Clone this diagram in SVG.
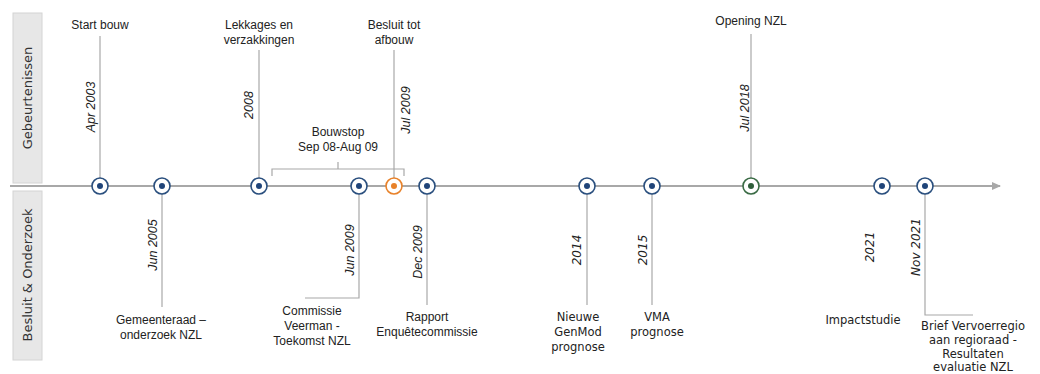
<svg xmlns="http://www.w3.org/2000/svg" width="1040" height="374" viewBox="0 0 1040 374">
<style>
.lane{fill:#e7e7e7;stroke:#d4d4d4;stroke-width:1}
.lanet{font-family:"DejaVu Sans",sans-serif;font-size:13px;fill:#333}
.lbl{font-family:"Liberation Sans",Arial,sans-serif;font-size:12px;fill:#222;text-anchor:middle}
.lblv{font-family:"DejaVu Sans",sans-serif;font-size:11.5px;fill:#222;text-anchor:middle}
.dt{font-family:"Liberation Sans",Arial,sans-serif;font-size:12.5px;font-style:italic;fill:#222;text-anchor:middle}
.dtv{font-family:"DejaVu Sans",sans-serif;font-size:12px;font-style:italic;fill:#222;text-anchor:middle}
.stem{stroke:#a8a8a8;stroke-width:1.2;fill:none}
.ring{fill:#fff;stroke-width:1.6}
.b{stroke:#2a4f7e}.bd{fill:#1f4479}
.o{stroke:#e8822a}.od{fill:#e8822a}
.g{stroke:#3a6b45}.gd{fill:#2f5e3a}
</style>
<defs>
<marker id="arr" markerWidth="10" markerHeight="8" refX="8" refY="4" orient="auto" markerUnits="userSpaceOnUse">
<path d="M0,0 L9,4 L0,8 Z" fill="#a8a8a8"/>
</marker>
</defs>
<g id="lanes">
<rect class="lane" x="13" y="13" width="29" height="170"/>
<text class="lanet" transform="translate(32,98) rotate(-90)" text-anchor="middle">Gebeurtenissen</text>
<rect class="lane" x="13" y="191" width="29" height="169"/>
<text class="lanet" transform="translate(32,275) rotate(-90)" text-anchor="middle">Besluit &amp; Onderzoek</text>
</g>
<g id="connectors">
<line x1="10" y1="186" x2="1000" y2="186" stroke="#a8a8a8" stroke-width="2" marker-end="url(#arr)"/>
<line class="stem" x1="100" y1="36" x2="100" y2="178"/>
<line class="stem" x1="259" y1="50" x2="259" y2="178"/>
<line class="stem" x1="394" y1="50" x2="394" y2="178"/>
<line class="stem" x1="751" y1="34" x2="751" y2="178"/>
<path class="stem" d="M272,176 V169 H404 V176 M338,169 V162"/>
<line class="stem" x1="162" y1="194" x2="162" y2="307"/>
<path class="stem" d="M359,194 V298 H305"/>
<line class="stem" x1="427" y1="194" x2="427" y2="305"/>
<line class="stem" x1="587" y1="194" x2="587" y2="305"/>
<line class="stem" x1="652" y1="194" x2="652" y2="305"/>
<path class="stem" d="M925,194 V315 H973"/>
</g>
<g id="n-apr2003">
<circle class="ring b" cx="100" cy="186" r="8"/><circle class="bd" cx="100" cy="186" r="3"/>
<text class="lbl" x="100" y="29">Start bouw</text>
<text class="dt" transform="translate(95,107) rotate(-90)">Apr 2003</text>
</g>
<g id="n-jun2005">
<circle class="ring b" cx="162" cy="186" r="8"/><circle class="bd" cx="162" cy="186" r="3"/>
<text class="dt" transform="translate(157,245) rotate(-90)">Jun 2005</text>
<text class="lbl" x="161" y="324">Gemeenteraad –</text>
<text class="lbl" x="161" y="339">onderzoek NZL</text>
</g>
<g id="n-2008">
<circle class="ring b" cx="259" cy="186" r="8"/><circle class="bd" cx="259" cy="186" r="3"/>
<text class="lbl" x="259" y="29">Lekkages en</text>
<text class="lbl" x="259" y="44">verzakkingen</text>
<text class="dt" transform="translate(253,105) rotate(-90)">2008</text>
</g>
<g id="n-bouwstop">
<text class="lbl" x="338" y="136">Bouwstop</text>
<text class="lbl" x="338" y="151">Sep 08-Aug 09</text>
</g>
<g id="n-jun2009">
<circle class="ring b" cx="359" cy="186" r="8"/><circle class="bd" cx="359" cy="186" r="3"/>
<text class="dt" transform="translate(354,250) rotate(-90)">Jun 2009</text>
<text class="lbl" x="312" y="315">Commissie</text>
<text class="lbl" x="312" y="330">Veerman -</text>
<text class="lbl" x="312" y="345">Toekomst NZL</text>
</g>
<g id="n-jul2009">
<circle class="ring o" cx="394" cy="186" r="8"/><circle class="od" cx="394" cy="186" r="3"/>
<text class="lbl" x="394" y="29">Besluit tot</text>
<text class="lbl" x="394" y="44">afbouw</text>
<text class="dt" transform="translate(410,110) rotate(-90)">Jul 2009</text>
</g>
<g id="n-dec2009">
<circle class="ring b" cx="427" cy="186" r="8"/><circle class="bd" cx="427" cy="186" r="3"/>
<text class="dt" transform="translate(422,252) rotate(-90)">Dec 2009</text>
<text class="lbl" x="427" y="321">Rapport</text>
<text class="lbl" x="427" y="336">Enquêtecommissie</text>
</g>
<g id="n-2014">
<circle class="ring b" cx="587" cy="186" r="8"/><circle class="bd" cx="587" cy="186" r="3"/>
<text class="dtv" transform="translate(581,250) rotate(-90)">2014</text>
<text class="lblv" x="578" y="321">Nieuwe</text>
<text class="lblv" x="578" y="336">GenMod</text>
<text class="lblv" x="578" y="351">prognose</text>
</g>
<g id="n-2015">
<circle class="ring b" cx="652" cy="186" r="8"/><circle class="bd" cx="652" cy="186" r="3"/>
<text class="dtv" transform="translate(647,250) rotate(-90)">2015</text>
<text class="lblv" x="657" y="321">VMA</text>
<text class="lblv" x="657" y="336">prognose</text>
</g>
<g id="n-jul2018">
<circle class="ring g" cx="751" cy="186" r="8"/><circle class="gd" cx="751" cy="186" r="3"/>
<text class="lbl" x="751" y="25">Opening NZL</text>
<text class="dt" transform="translate(749,108) rotate(-90)">Jul 2018</text>
</g>
<g id="n-2021">
<circle class="ring b" cx="882" cy="186" r="8"/><circle class="bd" cx="882" cy="186" r="3"/>
<text class="dtv" transform="translate(874,247) rotate(-90)">2021</text>
<text class="lblv" x="863" y="324">Impactstudie</text>
</g>
<g id="n-nov2021">
<circle class="ring b" cx="925" cy="186" r="8"/><circle class="bd" cx="925" cy="186" r="3"/>
<text class="dtv" transform="translate(920,247) rotate(-90)">Nov 2021</text>
<text class="lblv" x="973" y="330">Brief Vervoerregio</text>
<text class="lblv" x="973" y="344">aan regioraad -</text>
<text class="lblv" x="973" y="358">Resultaten</text>
<text class="lblv" x="973" y="371">evaluatie NZL</text>
</g>
</svg>
